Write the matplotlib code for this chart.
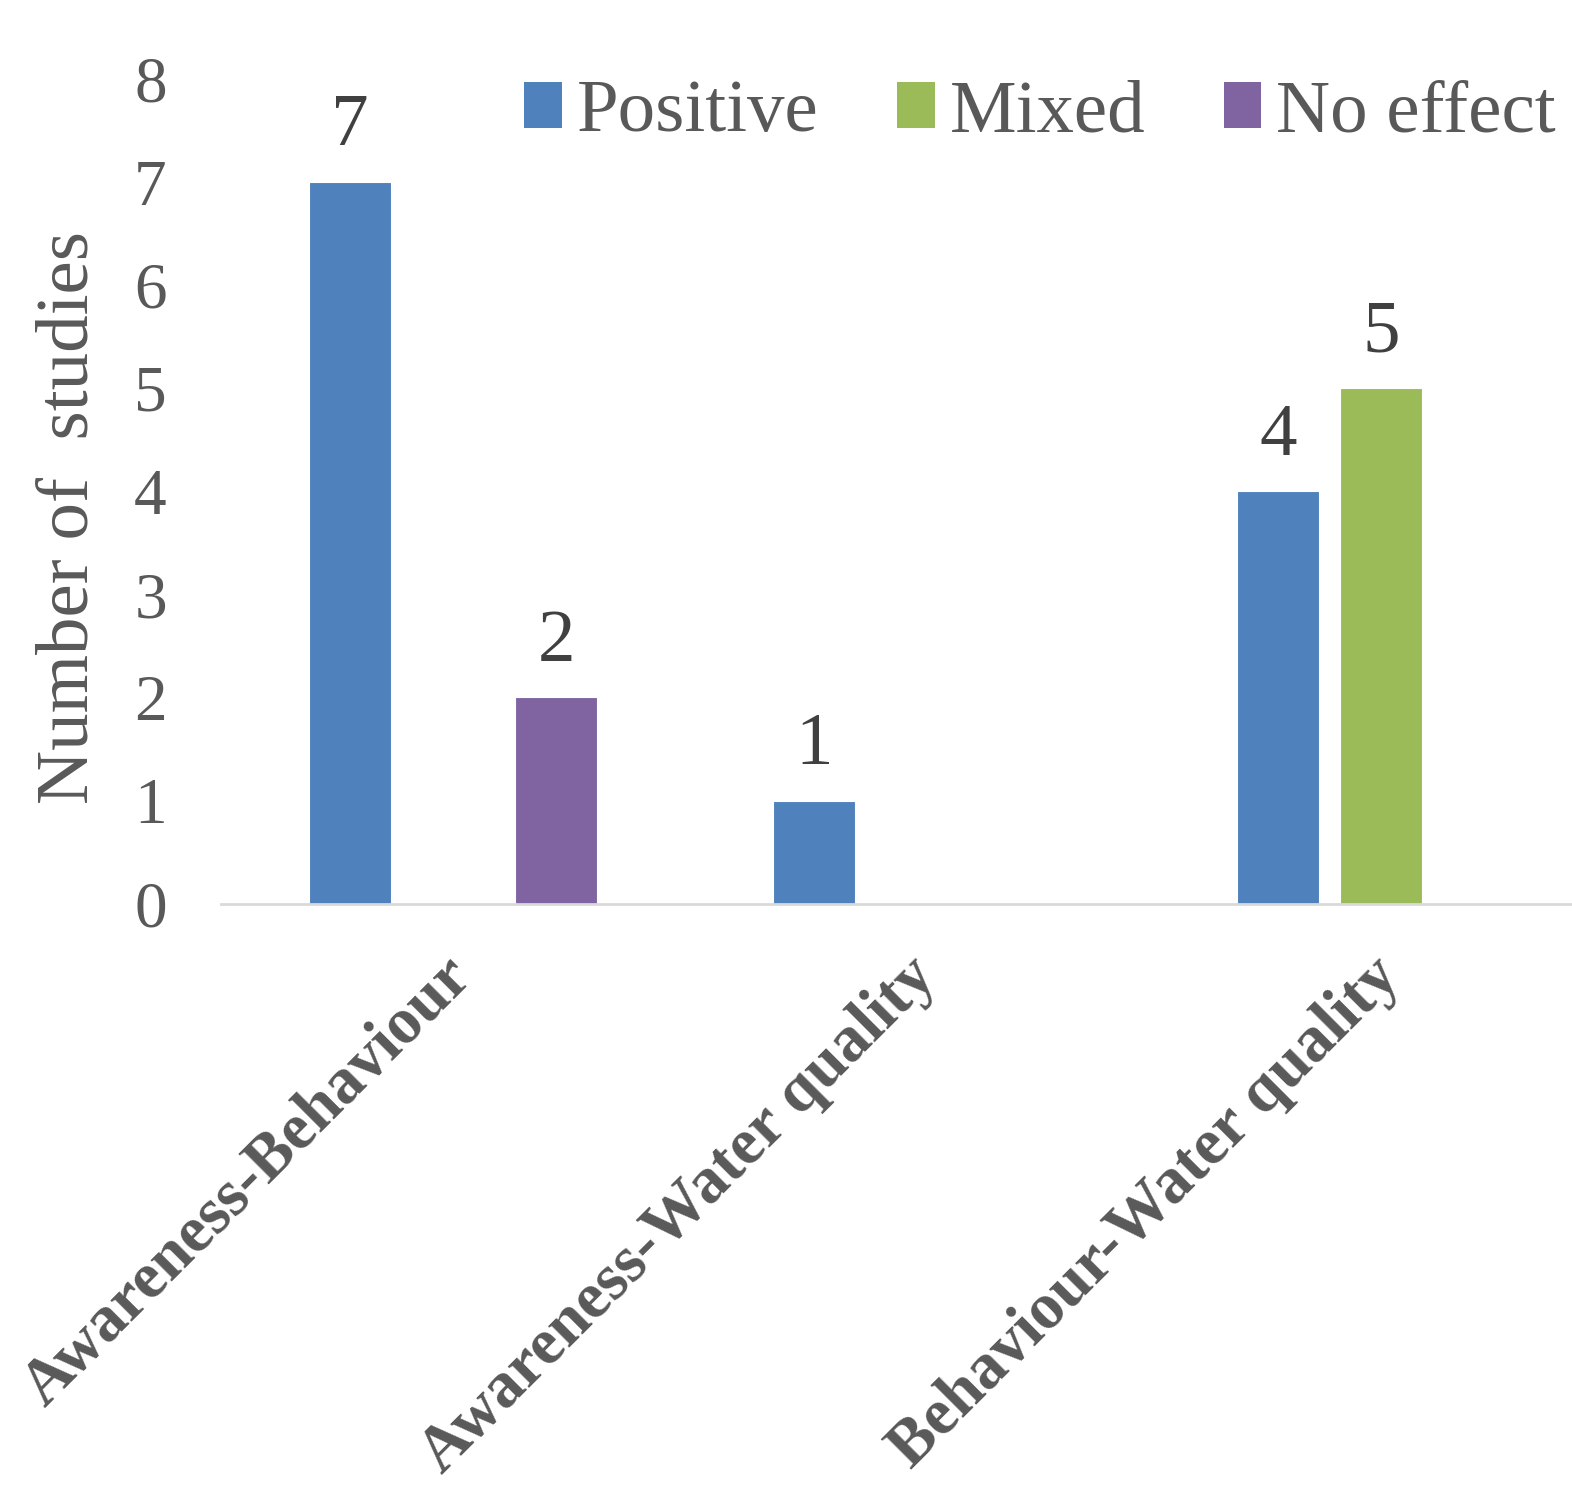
import numpy as np
import matplotlib
matplotlib.use('Agg')
import matplotlib.pyplot as plt
import matplotlib.transforms as mtransforms
from matplotlib.patches import Patch

# data
categories = ['Awareness-Behaviour', 'Awareness-Water quality', 'Behaviour-Water quality']
series = ['Positive', 'Mixed', 'No effect']
positive = [7, 1, 4]
mixed = [0, 0, 5]
no_effect = [2, 0, 0]
yticks = [0, 1, 2, 3, 4, 5, 6, 7, 8]

colors = ['#4F81BD', '#9BBB59', '#8064A2']
gray = '#595959'

plt.rcParams['font.family'] = ['Liberation Serif', 'DejaVu Serif']

fig = plt.figure(figsize=(15.72, 14.85), dpi=100)
ax = fig.add_axes([0.1406, 0.3915, 0.8855, 0.5555])

x = np.arange(len(categories))
offset = 0.222
width = 0.175
values = [positive, mixed, no_effect]
for i, vals in enumerate(values):
    pos = x + (i - 1) * offset
    bars = ax.bar(pos, vals, width, color=colors[i], edgecolor='white', linewidth=0.8, zorder=2)
    for b, v in zip(bars, vals):
        if v > 0:
            ax.text(b.get_x() + b.get_width() / 2, v + 0.2, str(v), ha='center', va='bottom',
                    fontsize=54, color='#404040')

ax.set_xlim(-0.5, 2.5)
ax.set_ylim(0, 8)
ax.set_yticks(yticks)
ax.set_yticklabels([str(t) for t in yticks], fontsize=47, color=gray)
ax.tick_params(axis='y', length=0, pad=39)
ax.set_xticks(x)
ax.set_xticklabels(categories, rotation=45, rotation_mode='anchor', ha='right', va='center',
                   fontsize=47, fontweight='bold', color=gray)
ax.tick_params(axis='x', length=0, pad=46)
# nudge rotated labels a little to the right
shift = mtransforms.ScaledTranslation(10 / 100, 0, fig.dpi_scale_trans)
for lbl in ax.get_xticklabels():
    lbl.set_transform(lbl.get_transform() + shift)
for s in ['top', 'right', 'left']:
    ax.spines[s].set_visible(False)
ax.spines['bottom'].set_color('#D9D9D9')
ax.spines['bottom'].set_linewidth(2)

fig.text(70 / 1572, 1 - 518 / 1485, 'Number of  studies', rotation=90, ha='center', va='center',
         fontsize=54, color=gray)

handles = [Patch(facecolor=c) for c in colors]
fig.legend(handles, series, loc='upper left', bbox_to_anchor=(524 / 1572, 1 - 80 / 1485),
           ncol=3, frameon=False, fontsize=54, labelcolor=gray, handlelength=0.5,
           handleheight=0.55, handletextpad=0.2, columnspacing=1.05, borderpad=0, borderaxespad=0)

fig.savefig('out.png', dpi=100)
